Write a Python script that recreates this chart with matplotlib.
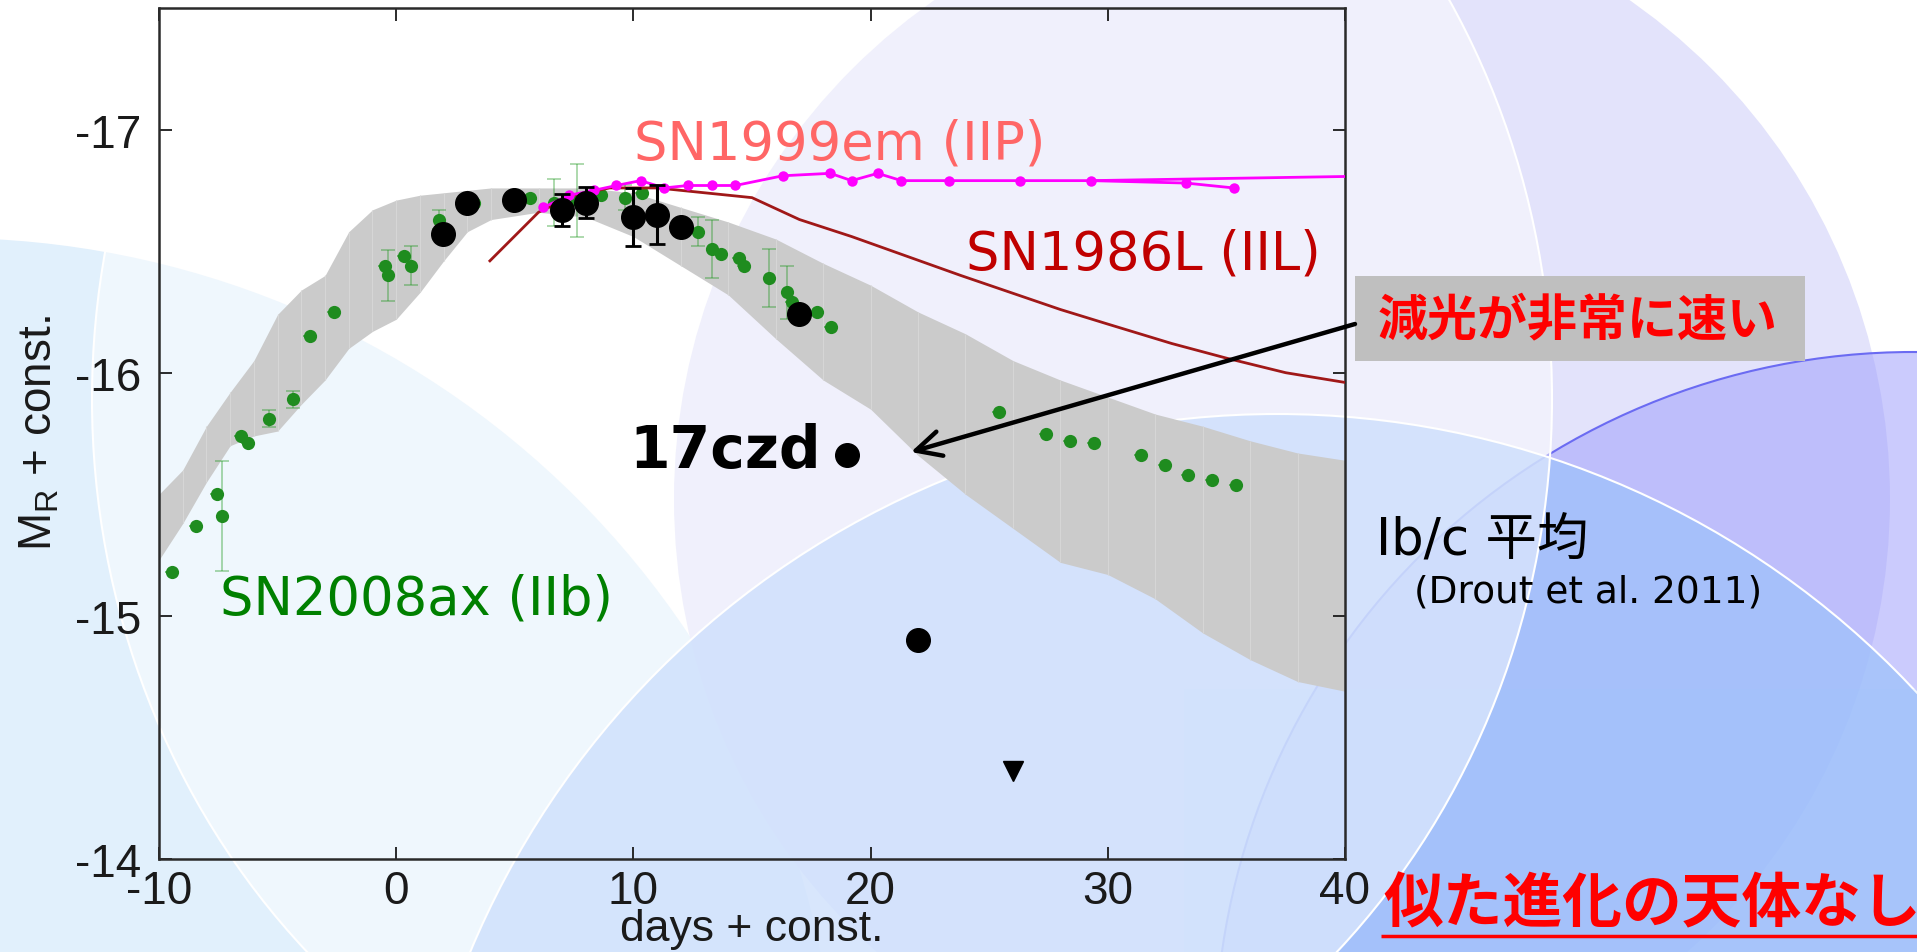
import numpy as np
import matplotlib
matplotlib.use('Agg')
import matplotlib.pyplot as plt
from matplotlib.patches import Circle, Ellipse, Rectangle

plt.rcParams['font.family'] = ['Liberation Sans', 'DejaVu Sans']
plt.rcParams['axes.unicode_minus'] = False

# Ib/c average band (Drout et al. 2011)
band_x = [-10, -9, -8, -7, -6, -5, -4, -3, -2, -1, 0, 1, 2, 3, 4, 6, 8, 10, 12, 14, 16,
          18, 20, 22, 24, 26, 28, 30, 32, 34, 36, 38, 40]
band_hi = [-15.50, -15.60, -15.78, -15.92, -16.05, -16.24, -16.34, -16.40, -16.58, -16.67,
           -16.71, -16.73, -16.74, -16.75, -16.76, -16.76, -16.76, -16.74, -16.68, -16.62,
           -16.55, -16.45, -16.36, -16.25, -16.16, -16.05, -15.97, -15.90, -15.83, -15.78,
           -15.72, -15.67, -15.64]
band_lo = [-15.23, -15.38, -15.55, -15.70, -15.74, -15.76, -15.87, -15.97, -16.10, -16.17,
           -16.22, -16.33, -16.46, -16.58, -16.63, -16.66, -16.64, -16.56, -16.44, -16.32,
           -16.14, -15.97, -15.85, -15.66, -15.50, -15.36, -15.22, -15.17, -15.07, -14.93,
           -14.82, -14.73, -14.69]

# SN2008ax (IIb)
ax08_x = [-9.47, -8.44, -7.54, -7.36, -6.56, -6.26, -5.35, -4.34, -3.63, -2.61, -0.47,
          -0.36, 0.34, 0.62, 1.82, 3.30, 5.65, 6.64, 7.63, 8.62, 9.64, 10.37, 12.73, 13.30,
          13.69, 14.44, 14.65, 15.70, 16.47, 16.70, 17.76, 18.35, 25.4, 27.4, 28.4, 29.4,
          31.4, 32.4, 33.4, 34.4, 35.4]
ax08_y = [-15.18, -15.37, -15.50, -15.41, -15.74, -15.71, -15.81, -15.89, -16.15, -16.25,
          -16.44, -16.40, -16.48, -16.44, -16.63, -16.70, -16.72, -16.70, -16.71, -16.73,
          -16.72, -16.74, -16.58, -16.51, -16.49, -16.47, -16.44, -16.39, -16.33, -16.29,
          -16.25, -16.19, -15.84, -15.75, -15.72, -15.71, -15.66, -15.62, -15.58, -15.56,
          -15.54]
ax08_err = [0, 0, 0, 0.225, 0, 0, 0.035, 0.035, 0, 0, 0, 0.105, 0, 0.08, 0.04, 0, 0, 0.095,
            0.15, 0, 0.05, 0, 0.06, 0.12, 0, 0, 0, 0.12, 0.11, 0, 0, 0, 0, 0, 0, 0, 0, 0,
            0, 0, 0]

# SN1999em (IIP)
em_x = [6.2, 7.3, 8.33, 9.28, 10.3, 11.3, 12.3, 13.3, 14.3, 16.3, 18.3, 19.2, 20.3, 21.3,
        23.3, 26.3, 29.3, 33.3, 35.3]
em_y = [-16.68, -16.73, -16.75, -16.77, -16.79, -16.76, -16.77, -16.77, -16.77, -16.81,
        -16.82, -16.79, -16.82, -16.79, -16.79, -16.79, -16.79, -16.78, -16.76]
em_tail_x = [29.3, 45.0]
em_tail_y = [-16.79, -16.815]

# SN1986L (IIL)
il_x = [3.95, 6.0, 7.5, 9.0, 11.0, 13.0, 15.0, 17.0, 19.2, 21.5, 23.8, 25.6, 28.0, 30.0,
        32.7, 35.0, 37.5, 40.0]
il_y = [-16.46, -16.66, -16.73, -16.76, -16.76, -16.74, -16.72, -16.63, -16.56, -16.48,
        -16.40, -16.34, -16.26, -16.20, -16.12, -16.06, -16.00, -15.96]

# 17czd
czd_x = [1.97, 2.98, 4.98, 7.0, 8.0, 10.0, 11.0, 12.0, 16.97, 19.0, 22.0]
czd_y = [-16.57, -16.70, -16.71, -16.67, -16.70, -16.64, -16.65, -16.60, -16.24, -15.66,
         -14.90]
czd_err = [0.03, 0.02, 0.02, 0.065, 0.065, 0.12, 0.12, 0.02, 0.03, 0.02, 0.02]
czd_lim_x = [26.0]
czd_lim_y = [-14.36]

W, H = 1917, 953
fig = plt.figure(figsize=(W / 100, H / 100), dpi=100)
fig.patch.set_facecolor('white')

# decorative slide background (pixel coordinates)
bg = fig.add_axes([0, 0, 1, 1])
bg.set_xlim(0, W), bg.set_ylim(H, 0)
bg.axis('off')
bg.add_patch(Circle((-52, 1129), 890, fc='#e1f0fc', ec='none'))
bg.add_patch(Circle((1282, 500), 608, fc='#e3e3fb', ec='none'))
bg.add_patch(Circle((1913, 1051), 698, fc=(0.63, 0.63, 0.99, 0.55), ec='#6b6bf2', lw=1.5))
bg.add_patch(Circle((1277, 1289), 874, fc=(0.62, 0.76, 0.98, 0.75), ec='white', lw=1.5))
bg.add_patch(Rectangle((1184, 690), 733, 263, fc=(0.6, 0.8, 1.0, 0.12), ec='none'))
bg.add_patch(Ellipse((822, 400), 1460, 1560, fc=(1, 1, 1, 0.47), ec='white', lw=1.5))

# main plot
ax = fig.add_axes([159 / W, 1 - 860 / H, 1186 / W, 851 / H])
ax.set_facecolor('none')
ax.fill_between(band_x, band_lo, band_hi, color='#cbcbcb', lw=0, zorder=1)
ax.vlines(band_x[1:-1], band_lo[1:-1], band_hi[1:-1], color='#d6d6d6', lw=0.8, zorder=1.1)
ax.errorbar(ax08_x, ax08_y, yerr=ax08_err, fmt='none', ecolor=(0.13, 0.6, 0.13, 0.4),
            elinewidth=1.3, capsize=5, capthick=1.3, zorder=2)
ax.plot(ax08_x, ax08_y, 'o', color='#1f8c1f', ms=9.5, mec='none', zorder=3)
ax.plot(il_x, il_y, '-', color='#a01818', lw=2, zorder=4)
ax.plot(em_tail_x, em_tail_y, '-', color='#ff00ff', lw=2, zorder=4)
ax.plot(em_x, em_y, '-o', color='#ff00ff', lw=2, ms=7.5, mec='none', zorder=4)
ax.errorbar(czd_x, czd_y, yerr=czd_err, fmt='o', color='black', ms=17, elinewidth=2.2,
            capsize=6, capthick=2, zorder=5)
ax.plot(czd_lim_x, czd_lim_y, 'v', color='black', ms=14, zorder=5)

ax.set_xlim(-10, 40), ax.set_ylim(-14, -17.5)
ax.set_xticks([-10, 0, 10, 20, 30, 40])
ax.set_yticks([-17, -16, -15, -14])
ax.tick_params(direction='in', top=True, right=True, length=9, width=1.3,
               labelsize=33, colors='#1a1a1a')
ax.tick_params(axis='x', pad=7)
ax.tick_params(axis='y', pad=13)
for s in ax.spines.values():
    s.set_linewidth(1.8), s.set_color('#2a2a2a')
ax.set_xlabel('days + const.', fontsize=32, color='#1a1a1a')
ax.set_ylabel(r'$\mathregular{M_R}$ + const.', fontsize=33, color='#1a1a1a')
ax.xaxis.set_label_coords(0.5, -0.058)
ax.yaxis.set_label_coords(-0.082, 0.502)

# annotations on top (pixel coordinates)
ov = fig.add_axes([0, 0, 1, 1], facecolor='none')
ov.set_xlim(0, W), ov.set_ylim(H, 0)
ov.axis('off')
lab = dict(family='DejaVu Sans', fontsize=38, ha='left', va='baseline')
ov.text(634, 159, 'SN1999em (IIP)', color='#ff6666', **lab)
ov.text(966, 270, 'SN1986L (IIL)', color='#c00000', **lab)
ov.text(220, 615, 'SN2008ax (IIb)', color='#008000', **lab)
ov.text(629, 468, '17czd', family='DejaVu Sans', fontsize=42, fontweight='bold',
        ha='left', va='baseline', color='black')

ov.add_patch(Rectangle((1355, 277), 450, 85, fc='#bfbfbf', ec='none'))
ov.text(1578, 321, '減光が非常に速い', family=['Noto Sans CJK JP'], fontsize=36,
        fontweight='bold', color='#ff0000', ha='center', va='center')
ov.annotate('', xy=(911, 453), xytext=(1355, 325),
            arrowprops=dict(arrowstyle='->,head_length=0.9,head_width=0.45', lw=3.2,
                            color='black', shrinkA=0, shrinkB=0, mutation_scale=20))

ov.text(1376, 556, 'Ib/c 平均', family=['DejaVu Sans', 'Noto Sans CJK JP'], fontsize=37,
        ha='left', va='baseline', color='black')
ov.text(1414, 603, '(Drout et al. 2011)', family='DejaVu Sans', fontsize=27,
        ha='left', va='baseline', color='black')
ov.text(1383, 905, '似た進化の天体なし', family=['Noto Sans CJK JP'], fontsize=43,
        fontweight='bold', color='#ff0000', ha='left', va='center')
ov.plot([1381, W], [937, 937], color='#ff0000', lw=2.5, solid_capstyle='butt')

fig.savefig('out.png', dpi=100)
